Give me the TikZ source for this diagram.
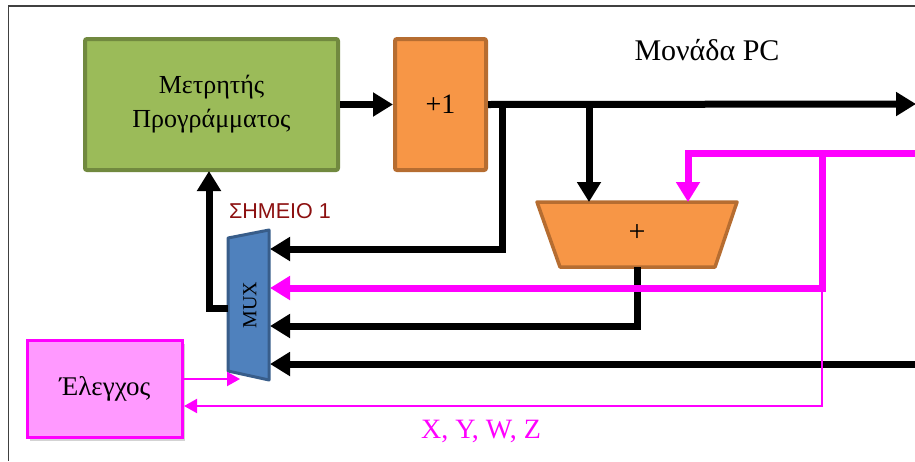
\documentclass[tikz,border=0pt]{standalone}
\usepackage{fontspec}
\setmainfont{Liberation Serif}
\newfontfamily\sansf{Liberation Sans}
\usetikzlibrary{arrows.meta,shadows}
\definecolor{gfill}{HTML}{9BBB59}
\definecolor{gdraw}{HTML}{71893F}
\definecolor{ofill}{HTML}{F79646}
\definecolor{odraw}{HTML}{B66D31}
\definecolor{bfill}{HTML}{4F81BD}
\definecolor{bdraw}{HTML}{385D8A}
\definecolor{pfill}{HTML}{FF99FF}
\definecolor{mag}{HTML}{FF00FF}
\definecolor{dred}{HTML}{8C1010}
\tikzset{
  bus/.style={line width=7pt,-{Triangle[length=20pt,width=23pt]}},
  mbus/.style={line width=7pt,draw=mag,-{Triangle[length=20pt,width=23pt]}},
  mthin/.style={line width=2pt,draw=mag,-{Triangle[length=13pt,width=14pt]}},
  pcbox/.style={draw=gdraw,fill=gfill,line width=4pt,rounded corners=2pt,minimum width=253pt,minimum height=131pt,align=center,font=\fontsize{26}{34}\selectfont},
  incbox/.style={draw=odraw,fill=ofill,line width=4pt,rounded corners=2pt,minimum width=91pt,minimum height=131pt,font=\fontsize{28}{32}\selectfont},
  ctlbox/.style={draw=mag,fill=pfill,line width=3pt,minimum width=155pt,minimum height=97pt,font=\fontsize{27}{30}\selectfont,drop shadow={shadow xshift=2pt,shadow yshift=-3pt,opacity=0.35}},
  lbl/.style={inner sep=0pt}
}
\begin{document}
\begin{tikzpicture}[x=1pt,y=-1pt]
\useasboundingbox (0,0) rectangle (915,461);
% frame
\draw[line width=1.5pt,draw=black!75] (915,6) -- (8.5,6) -- (8.5,461);
% boxes
\node[pcbox] (pc) at (211.5,104.5) {Μετρητής\\Προγράμματος};
\node[incbox] (inc) at (440.5,104.5) {+1};
\node[ctlbox] (ctl) at (105,389) {Έλεγχος};
% adder
\draw[draw=odraw,fill=ofill,line width=3.5pt,line join=round] (537,202) -- (737,202) -- (715,267) -- (560,267) -- cycle;
\node[lbl,font=\fontsize{30}{30}\selectfont] (plus) at (637,233) {+};
% MUX
\draw[draw=bdraw,fill=bfill,line width=3pt,line join=round] (228,238) -- (269,230) -- (269,380) -- (228,371) -- cycle;
\node[lbl,rotate=90,font=\fontsize{20}{22}\selectfont] (mux) at (250,305) {MUX};
% texts
\node[lbl,font=\fontsize{30}{32}\selectfont] (title) at (707,50) {Μονάδα PC};
\node[lbl,font=\sansf\fontsize{21.5}{24}\selectfont,text=dred] (pt1) at (280,211) {ΣΗΜΕΙΟ 1};
\node[lbl,font=\fontsize{28}{30}\selectfont,text=mag] (xyz) at (481,431) {X, Y, W, Z};
% coordinates
\coordinate (j1) at (502,104);
\coordinate (j2) at (589,104);
\coordinate (out) at (916,104);
\coordinate (addA) at (589,202);
\coordinate (addB) at (688,202);
\coordinate (addout) at (637,267);
\coordinate (m1) at (270,249);
\coordinate (m2) at (270,288);
\coordinate (m3) at (270,326);
\coordinate (m4) at (270,364);
\coordinate (mout) at (228,308);
\coordinate (pcin) at (209,171);
\coordinate (mctl) at (240,379);
\coordinate (r1) at (915,153);
\coordinate (r4) at (915,364);
\coordinate (jm) at (822,153);
\coordinate (jt) at (822,288);
% black buses
\draw[bus] (pc.east) -- (inc.west);
\draw[bus] (inc.east) -- (out);
\draw[bus] (j1) |- (m1);
\draw[bus] (j2) -- (addA);
\draw[bus] (addout) |- (m3);
\draw[bus] (r4) -- (m4);
\draw[bus] (mout) -| (pcin);
% magenta buses
\draw[mbus] (r1) -| (addB);
\draw[mbus] (jm) |- (m2);
\draw[mthin] (jt) |- (ctl.east |- 0,406);
\draw[mthin] (ctl.east |- 0,379) -- (mctl);
\end{tikzpicture}
\end{document}
